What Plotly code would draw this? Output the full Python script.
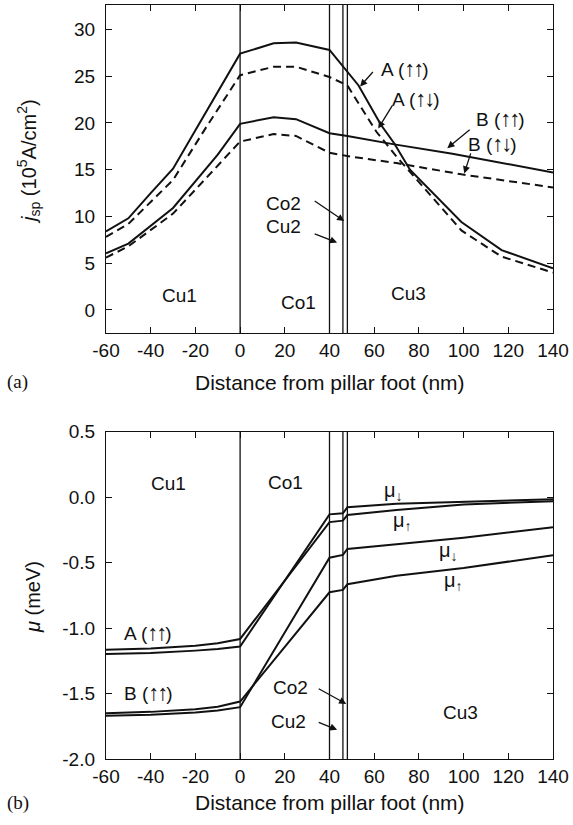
import plotly.graph_objects as go

# ---------------- data: panel (a) spin current ----------------
xa_A_uu = [-60, -50, -40, -30, -20, -10, 0, 15, 25, 40, 48, 53, 63, 69, 76, 99, 117, 140]
ya_A_uu = [8.4, 9.8, 12.5, 15.1, 19.2, 23.3, 27.4, 28.5, 28.6, 27.8, 25.5, 24.0, 19.8, 17.8, 15.0, 9.4, 6.4, 4.45]

xa_A_ud = [-60, -50, -30, -15, 0, 15, 25, 40, 48, 61, 70, 99, 117, 140]
ya_A_ud = [7.8, 9.2, 13.9, 19.6, 25.1, 26.0, 26.0, 24.9, 24.0, 19.05, 16.4, 8.5, 5.7, 4.0]

xa_B_uu = [-60, -50, -30, -10, 0, 15, 25, 40, 48, 69, 95, 117, 140]
ya_B_uu = [6.05, 7.1, 10.9, 16.6, 19.9, 20.6, 20.4, 18.9, 18.6, 17.7, 16.7, 15.7, 14.7]

xa_B_ud = [-60, -50, -30, 0, 15, 25, 40, 48, 70, 99, 140]
ya_B_ud = [5.6, 6.8, 10.3, 18.0, 18.8, 18.6, 16.8, 16.45, 15.7, 14.5, 13.1]

# ---------------- data: panel (b) chemical potential ----------------
xb = [-60, -40, -20, -10, 0, 40, 46, 48, 70, 100, 140]
yb_A_down = [-1.198, -1.19, -1.172, -1.16, -1.141, -0.131, -0.123, -0.077, -0.05, -0.034, -0.016]
yb_A_up = [-1.166, -1.155, -1.135, -1.115, -1.083, -0.19, -0.179, -0.136, -0.098, -0.056, -0.03]
yb_B_down = [-1.67, -1.662, -1.645, -1.63, -1.604, -0.462, -0.441, -0.395, -0.36, -0.31, -0.23]
yb_B_up = [-1.65, -1.64, -1.62, -1.60, -1.561, -0.726, -0.708, -0.665, -0.60, -0.54, -0.444]

# layer boundaries (nm)
boundaries = [0, 40, 46, 48]

xticks = [-60, -40, -20, 0, 20, 40, 60, 80, 100, 120, 140]
xticklabels = ["-60", "-40", "-20", "0", "20", "40", "60", "80", "100", "120", "140"]
yticks_a = [0, 5, 10, 15, 20, 25, 30]
yticklabels_a = ["0", "5", "10", "15", "20", "25", "30"]
yticks_b = [-2.0, -1.5, -1.0, -0.5, 0.0, 0.5]
yticklabels_b = ["-2.0", "-1.5", "-1.0", "-0.5", "0.0", "0.5"]

FONT = "Liberation Sans, Arial, sans-serif"
BLK = "#111111"
ARW = '<span style="font-family:Liberation Sans;font-weight:bold;font-size:22px;letter-spacing:-2px">'
ARW_SUB = '<span style="font-family:Liberation Sans;font-weight:bold">'

fig = go.Figure()

def add_line(x, y, xa, ya, dash="solid"):
    fig.add_trace(go.Scatter(x=x, y=y, mode="lines", xaxis=xa, yaxis=ya,
                             line=dict(color=BLK, width=2, dash=dash),
                             showlegend=False, hoverinfo="skip"))

add_line(xa_A_uu, ya_A_uu, "x", "y")
add_line(xa_A_ud, ya_A_ud, "x", "y", "8px,5px")
add_line(xa_B_uu, ya_B_uu, "x", "y")
add_line(xa_B_ud, ya_B_ud, "x", "y", "8px,5px")

for yy in (yb_A_down, yb_A_up, yb_B_down, yb_B_up):
    add_line(xb, yy, "x2", "y2")

shapes = []
for b in boundaries:
    for xr, yr in (("x", "y domain"), ("x2", "y2 domain")):
        shapes.append(dict(type="line", xref=xr, yref=yr, x0=b, x1=b, y0=0, y1=1,
                           line=dict(color=BLK, width=1.3)))

axis_common = dict(showline=True, linecolor=BLK, linewidth=1.3, mirror="ticks",
                   ticks="inside", ticklen=6, tickwidth=1.2, tickcolor=BLK,
                   showgrid=False, zeroline=False, automargin=False,
                   tickfont=dict(family=FONT, size=19, color=BLK))

ann = []
def txt(x, y, s, xr="x", yr="y", size=19, xanchor="center", family=FONT):
    ann.append(dict(x=x, y=y, xref=xr, yref=yr, text=s, showarrow=False,
                    xanchor=xanchor, yanchor="middle",
                    font=dict(family=family, size=size, color=BLK)))

def arrow(hx, hy, tx, ty, xr="x", yr="y"):
    ann.append(dict(x=hx, y=hy, ax=tx, ay=ty, xref=xr, yref=yr, axref=xr, ayref=yr,
                    text="", showarrow=True, arrowhead=2, arrowsize=1.1,
                    arrowwidth=1.3, arrowcolor=BLK, standoff=0, startstandoff=0))

uu = ARW + "↑↑</span>"
ud = ARW + "↑↓</span>"

# panel (a) labels
txt(73.9, 25.85, "A (" + uu + ")")
arrow(53.7, 23.9, 60.0, 25.6)
txt(78.8, 22.6, "A (" + ud + ")")
arrow(61.8, 19.4, 68.5, 22.0)
txt(116.4, 20.5, "B (" + uu + ")")
arrow(92.7, 17.3, 103.4, 19.4)
txt(112.8, 17.8, "B (" + ud + ")")
arrow(100.3, 14.6, 103.4, 16.9)
txt(19.3, 11.4, "Co2")
arrow(46.6, 9.5, 32.7, 11.75)
txt(19.3, 8.9, "Cu2")
arrow(43.4, 7.2, 32.7, 8.2)
txt(-26.9, 1.6, "Cu1")
txt(26.0, 0.75, "Co1")
txt(75.2, 1.8, "Cu3")

# panel (b) labels
txt(-32.2, 0.108, "Cu1", "x2", "y2")
txt(20.2, 0.116, "Co1", "x2", "y2")
txt(-52.8, -1.03, "A (" + uu + ")", "x2", "y2", xanchor="left")
txt(-52.8, -1.495, "B (" + uu + ")", "x2", "y2", xanchor="left")
txt(22.4, -1.457, "Co2", "x2", "y2")
arrow(47.5, -1.579, 34.5, -1.457, "x2", "y2")
txt(21.5, -1.716, "Cu2", "x2", "y2")
arrow(43.4, -1.777, 34.5, -1.716, "x2", "y2")
txt(98.5, -1.647, "Cu3", "x2", "y2")
txt(68.5, 0.04, "μ<sub>" + ARW_SUB + "↓</span></sub>", "x2", "y2", size=20)
txt(72.5, -0.189, "μ<sub>" + ARW_SUB + "↑</span></sub>", "x2", "y2", size=20)
txt(93.1, -0.418, "μ<sub>" + ARW_SUB + "↓</span></sub>", "x2", "y2", size=20)
txt(95.4, -0.647, "μ<sub>" + ARW_SUB + "↑</span></sub>", "x2", "y2", size=20)

# axis titles and panel letters
txt(0.5, 0.5, "Distance from pillar foot (nm)", "paper", "paper", size=21)
txt(0.5, -0.058, "Distance from pillar foot (nm)", "paper", "paper", size=21)
txt(-0.197, 0.5, "(a)", "paper", "paper", size=19, family="Liberation Serif, Times New Roman, serif")
txt(-0.197, -0.058, "(b)", "paper", "paper", size=19, family="Liberation Serif, Times New Roman, serif")
ann.append(dict(x=-0.172, y=0.792, xref="paper", yref="paper", showarrow=False,
                xanchor="center", yanchor="middle",
                text="<i>j</i><sub>sp</sub> (10<sup>5</sup>A/cm<sup>2</sup>)", textangle=-90,
                font=dict(family=FONT, size=20, color=BLK)))
ann.append(dict(x=-0.163, y=0.215, xref="paper", yref="paper", showarrow=False,
                xanchor="center", yanchor="middle",
                text="<i>μ</i> (meV)", textangle=-90,
                font=dict(family=FONT, size=20, color=BLK)))

fig.update_layout(
    template="none",
    width=573, height=825, autosize=False,
    margin=dict(l=106, r=20, t=5, b=66, pad=0),
    paper_bgcolor="white", plot_bgcolor="white",
    showlegend=False,
    xaxis=dict(axis_common, domain=[0, 1], range=[-60, 140], tickvals=xticks,
               ticktext=xticklabels, anchor="y", ticklabelstandoff=0),
    yaxis=dict(axis_common, domain=[0.565, 1.0], range=[-2.46, 32.6], tickvals=yticks_a,
               ticktext=yticklabels_a, anchor="x", ticklabelstandoff=6),
    xaxis2=dict(axis_common, domain=[0, 1], range=[-60, 140], tickvals=xticks,
                ticktext=xticklabels, anchor="y2", ticklabelstandoff=0),
    yaxis2=dict(axis_common, domain=[0, 0.434], range=[-2.0, 0.5], tickvals=yticks_b,
                ticktext=yticklabels_b, anchor="x2", ticklabelstandoff=6),
    shapes=shapes,
    annotations=ann,
)

fig.write_html("out.html",
               config={"responsive": False, "displayModeBar": False},
               post_script="document.body.style.margin='0';document.body.style.overflow='hidden';")
